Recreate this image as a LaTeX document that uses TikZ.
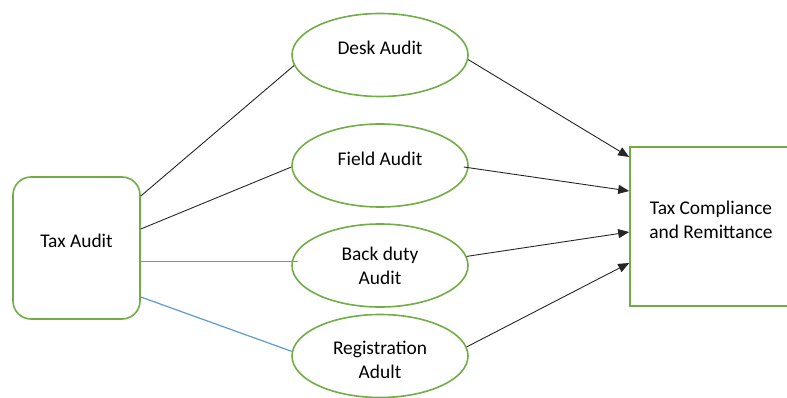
\documentclass[tikz,border=0pt]{standalone}
\usepackage{fontspec}
\setmainfont{Carlito}
\usetikzlibrary{shapes.geometric,calc,arrows.meta}
\definecolor{boxgreen}{HTML}{70AD47}
\definecolor{lineblue}{HTML}{5B9BD5}
\begin{document}
\begin{tikzpicture}[x=1pt,y=-1pt,
  every node/.style={font=\fontsize{19.4}{24}\selectfont, text=black},
  oval/.style={ellipse, draw=boxgreen, line width=1.6pt, minimum width=176pt, minimum height=83pt, inner sep=0pt, align=center},
  raise/.style={text depth=14pt},
  lower/.style={text height=45pt},
  leftbox/.style={draw=boxgreen, line width=1.6pt, rounded corners=18pt, minimum width=127pt, minimum height=142pt, inner sep=0pt, align=center},
  rightbox/.style={draw=boxgreen, line width=1.6pt, minimum width=162pt, minimum height=159pt, inner sep=0pt, align=center},
  link/.style={draw=black!85, line width=0.9pt},
  bluelink/.style={draw=lineblue, line width=1.2pt},
  arrow/.style={link, -{Triangle[length=11pt,width=9pt]}}]
\useasboundingbox (0,0) rectangle (787,398);
\clip (0,0) rectangle (787,398);

\node[leftbox, raise] (ta) at (76.5,248) {Tax Audit};
\node[oval, raise] (desk) at (380,55) {Desk Audit};
\node[oval, raise] (field) at (380,165.5) {Field Audit};
\node[oval] (back) at (380,265.5) {Back duty\\Audit};
\node[oval, lower] (reg) at (380,356) {Registration\\Adult};
\node[rightbox, raise] (tc) at (711,226.5) {Tax Compliance\\and Remittance};

\draw[link] ($(ta.east)+(0,-52)$) -- (desk.187.8);
\draw[link] ($(ta.east)+(0,-19)$) -- (field.181.3);
\draw[bluelink] ($(ta.east)+(0,13.5)$) -- ($(back.west)+(7,-4)$);
\draw[bluelink] ($(ta.east)+(0,49)$) -- (reg.177.4);

\draw[arrow] (desk.-3.3) -- ($(tc.west)+(0,-69.5)$);
\draw[arrow] ($(field.east)+(-5,1.5)$) -- ($(tc.west)+(0,-35.5)$);
\draw[arrow] (back.6.7) -- ($(tc.west)+(0,5.5)$);
\draw[arrow] (reg.6.5) -- ($(tc.west)+(0,36.5)$);
\end{tikzpicture}
\end{document}
